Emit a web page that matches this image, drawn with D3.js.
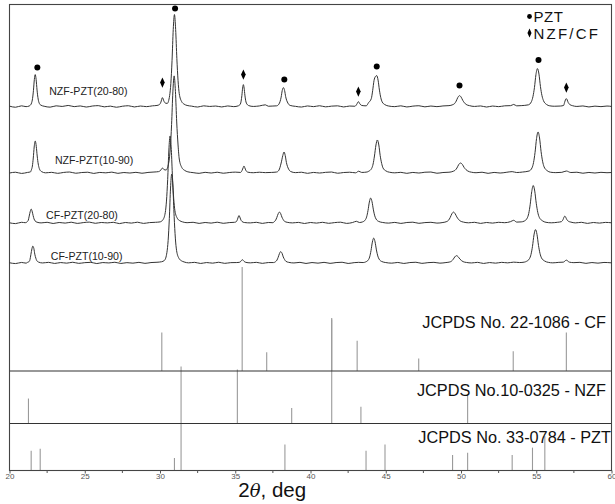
<!DOCTYPE html>
<html>
<head>
<meta charset="utf-8">
<script src="https://cdn.jsdelivr.net/npm/d3@7"></script>
<style>
  body { margin: 0; background: #fff; }
  text { font-family: "Liberation Sans", Arial, sans-serif; }
</style>
</head>
<body>
<div id="chart-area"></div>
<script>
// 2theta ticks
let majorTicks = [20, 25, 30, 35, 40, 45, 50, 55, 60];
let minorTicks = [22.5, 27.5, 32.5, 37.5, 42.5, 47.5, 52.5, 57.5];

let traceNames = ["NZF-PZT(20-80)", "NZF-PZT(10-90)", "CF-PZT(20-80)", "CF-PZT(10-90)"];
// vertical offset of each pattern (counts)
let traceOffsets = [2640, 1977, 1477, 1077];

// measured patterns [2theta, counts above own baseline]
let nzf2080 = [[20.0,5],[20.4,-6],[20.8,8],[21.1,0],[21.3,6],
  [21.35,10],[21.47,38],[21.53,80],[21.59,160],[21.65,270],[21.71,320],[21.77,270],[21.83,166],[21.89,90],[21.95,45],[22.07,16],
  [22.3,4],[22.7,-5],[23.1,8],[23.5,2],[23.9,12],[24.3,0],[24.7,7],[25.1,-4],[25.5,6],[25.9,10],[26.3,-2],[26.7,5],[27.1,-6],[27.5,4],[27.9,9],[28.3,-3],[28.7,6],[29.1,0],[29.5,8],[29.8,12],
  [29.96,20],[30.06,45],[30.16,90],[30.26,55],[30.36,35],[30.48,32],
  [30.64,110],[30.72,230],[30.80,460],[30.88,770],[30.96,920],[31.04,770],[31.12,480],[31.20,260],[31.28,130],[31.44,50],[31.6,25],[31.8,12],
  [32.1,5],[32.5,-4],[32.9,8],[33.3,2],[33.7,6],[34.1,-3],[34.5,7],[34.9,0],[35.2,8],
  [35.34,26],[35.44,110],[35.49,185],[35.54,220],[35.59,185],[35.64,115],[35.74,35],[35.9,10],
  [36.2,2],[36.6,7],[37.0,18],[37.2,4],[37.5,6],
  [37.75,8],[37.9,25],[38.05,95],[38.12,160],[38.2,190],[38.28,160],[38.35,100],[38.5,35],[38.65,12],
  [39.0,3],[39.4,-4],[39.8,7],[40.2,0],[40.6,9],[41.0,-2],[41.4,5],[41.8,8],[42.2,-3],[42.6,6],[42.95,4],
  [43.08,25],[43.18,50],[43.28,28],[43.4,12],
  [43.7,8],[43.86,40],[44.04,80],[44.13,160],[44.22,260],[44.31,300],[44.4,310],[44.49,265],[44.58,165],[44.67,90],[44.76,48],[44.94,20],[45.2,6],
  [45.6,0],[46.0,8],[46.4,-3],[46.8,5],[47.2,9],[47.6,-2],[48.0,6],[48.4,0],[48.8,7],[49.2,10],
  [49.46,20],[49.57,30],[49.68,55],[49.79,92],[49.9,110],[50.01,95],[50.12,62],[50.23,38],[50.34,22],[50.56,10],
  [50.9,2],[51.3,7],[51.7,-4],[52.1,6],[52.5,0],[52.9,8],[53.3,10],[53.5,22],[53.7,8],[54.0,10],
  [54.48,18],[54.68,50],[54.78,100],[54.88,190],[54.98,320],[55.08,380],[55.18,325],[55.28,200],[55.38,110],[55.48,60],[55.68,22],[55.9,8],
  [56.2,4],[56.6,6],[56.82,12],
  [56.88,40],[56.94,68],[57.0,80],[57.06,66],[57.12,42],[57.24,20],[57.4,10],
  [57.7,2],[58.1,7],[58.5,-3],[58.9,5],[59.3,0],[59.7,6],[60.0,2]];

let nzf1090 = [[20.0,0],[20.4,8],[20.8,-4],[21.2,6],[21.4,12],
  [21.45,30],[21.52,70],[21.58,150],[21.64,260],[21.71,320],[21.78,265],[21.84,170],[21.91,90],[21.98,45],[22.12,15],
  [22.4,2],[22.8,7],[23.2,-3],[23.6,6],[24.0,10],[24.4,-2],[24.8,5],[25.2,8],[25.6,-4],[26.0,6],[26.4,2],[26.8,9],[27.2,-3],[27.6,5],[28.0,0],[28.4,7],[28.8,-2],[29.2,6],[29.6,10],[29.9,14],
  [30.06,30],[30.16,50],[30.26,35],[30.4,30],
  [30.6,120],[30.68,240],[30.77,485],[30.855,810],[30.94,970],[31.025,815],[31.11,510],[31.2,280],[31.28,140],[31.45,55],[31.62,28],[31.85,12],
  [32.2,4],[32.6,-3],[33.0,7],[33.4,0],[33.8,8],[34.2,-2],[34.6,5],[35.0,9],[35.35,6],
  [35.45,25],[35.53,55],[35.58,70],[35.63,55],[35.71,25],[35.85,8],
  [36.2,3],[36.6,8],[37.0,4],[37.4,6],[37.75,10],
  [37.9,28],[38.05,100],[38.16,175],[38.24,210],[38.32,175],[38.4,105],[38.55,38],[38.7,14],
  [39.0,4],[39.4,8],[39.8,-3],[40.2,6],[40.6,0],[41.0,7],[41.4,10],[41.8,-2],[42.2,5],[42.6,8],[43.0,2],[43.2,18],[43.4,6],[43.75,10],
  [43.87,18],[44.06,45],[44.16,90],[44.25,170],[44.35,280],[44.44,330],[44.54,280],[44.63,175],[44.73,95],[44.82,50],[45.0,22],[45.25,8],
  [45.6,2],[46.0,7],[46.4,-3],[46.8,6],[47.2,0],[47.6,8],[48.0,10],[48.4,-2],[48.8,5],[49.2,8],
  [49.49,18],[49.61,28],[49.73,50],[49.85,85],[49.97,100],[50.09,86],[50.21,55],[50.33,34],[50.45,20],[50.7,8],
  [51.0,3],[51.4,8],[51.8,-3],[52.2,6],[52.6,0],[53.0,7],[53.4,14],[53.7,5],[54.1,10],
  [54.52,20],[54.72,52],[54.82,105],[54.92,205],[55.02,345],[55.12,410],[55.22,350],[55.32,215],[55.42,118],[55.52,62],[55.72,24],[55.95,8],
  [56.3,4],[56.7,7],[57.0,20],[57.3,5],[57.7,8],[58.1,-2],[58.5,6],[58.9,0],[59.3,7],[59.7,3],[60.0,5]];

let cf2080 = [[20.0,3],[20.4,-5],[20.8,8],[21.05,4],
  [21.18,14],[21.25,30],[21.31,70],[21.38,118],[21.44,140],[21.5,120],[21.57,75],[21.63,42],[21.7,22],[21.83,9],
  [22.1,2],[22.5,8],[22.9,-4],[23.3,6],[23.7,0],[24.1,9],[24.5,-3],[24.9,5],[25.3,10],[25.7,-2],[26.1,6],[26.5,2],[26.9,8],[27.3,-5],[27.7,6],[28.1,0],[28.5,9],[28.9,-3],[29.3,5],[29.7,8],[30.0,12],
  [30.19,32],[30.35,105],[30.43,220],[30.51,435],[30.59,730],[30.67,870],[30.75,735],[30.83,455],[30.91,245],[30.99,125],[31.15,48],[31.3,25],[31.5,12],
  [31.8,4],[32.2,8],[32.6,-3],[33.0,6],[33.4,0],[33.8,9],[34.2,-2],[34.6,5],[34.95,8],
  [35.05,12],[35.15,38],[35.2,62],[35.25,75],[35.3,62],[35.35,40],[35.45,16],[35.6,6],
  [36.0,2],[36.4,8],[36.8,-3],[37.2,6],[37.5,4],
  [37.59,14],[37.68,28],[37.76,55],[37.85,92],[37.93,110],[38.02,94],[38.1,60],[38.19,34],[38.27,18],[38.45,8],
  [38.8,2],[39.2,7],[39.6,-4],[40.0,6],[40.4,0],[40.8,8],[41.2,-2],[41.6,5],[42.0,9],[42.4,-3],[42.8,6],[43.05,18],[43.25,6],
  [43.46,12],[43.64,32],[43.73,62],[43.82,125],[43.91,210],[44.0,250],[44.09,212],[44.18,132],[44.27,72],[44.36,40],[44.54,16],[44.8,6],
  [45.2,0],[45.6,7],[46.0,-3],[46.4,6],[46.8,9],[47.2,-2],[47.6,5],[48.0,8],[48.4,0],[48.8,6],
  [49.06,16],[49.17,28],[49.28,55],[49.39,92],[49.5,110],[49.61,94],[49.72,62],[49.83,38],[49.94,22],[50.16,10],
  [50.5,3],[50.9,8],[51.3,-3],[51.7,6],[52.1,0],[52.5,8],[52.9,4],[53.3,15],[53.5,28],[53.7,10],[54.0,12],
  [54.2,20],[54.4,50],[54.5,96],[54.6,188],[54.7,315],[54.8,375],[54.9,320],[55.0,198],[55.1,108],[55.2,58],[55.4,24],[55.65,8],
  [56.0,3],[56.4,8],[56.66,14],
  [56.78,35],[56.84,58],[56.9,70],[56.96,58],[57.02,38],[57.14,18],[57.3,10],
  [57.6,2],[58.0,8],[58.4,-3],[58.8,6],[59.2,0],[59.6,7],[60.0,3]];

let cf1090 = [[20.0,4],[20.4,-4],[20.8,7],[21.1,0],[21.2,8],
  [21.29,14],[21.36,35],[21.42,85],[21.49,143],[21.55,170],[21.62,145],[21.68,90],[21.75,50],[21.81,26],[21.94,10],
  [22.2,2],[22.6,8],[23.0,-3],[23.4,6],[23.8,0],[24.2,9],[24.6,-2],[25.0,5],[25.4,8],[25.8,-4],[26.2,6],[26.6,2],[27.0,9],[27.4,-3],[27.8,5],[28.2,0],[28.6,8],[29.0,-2],[29.4,6],[29.8,9],[30.1,14],
  [30.3,28],[30.46,108],[30.54,225],[30.62,445],[30.7,750],[30.78,890],[30.86,755],[30.94,465],[31.02,250],[31.1,128],[31.26,48],[31.42,24],[31.6,12],
  [31.9,3],[32.3,8],[32.7,-3],[33.1,6],[33.5,0],[33.9,9],[34.3,-2],[34.7,5],[35.1,6],
  [35.27,8],[35.37,18],[35.47,35],[35.57,20],[35.7,8],
  [36.0,3],[36.4,8],[36.8,-2],[37.2,6],[37.55,6],
  [37.68,15],[37.77,30],[37.85,58],[37.94,97],[38.02,115],[38.11,98],[38.19,62],[38.28,36],[38.36,19],[38.55,8],
  [38.9,2],[39.3,8],[39.7,-3],[40.1,6],[40.5,0],[40.9,8],[41.3,-2],[41.7,6],[42.1,9],[42.5,-3],[42.9,5],[43.2,8],[43.5,6],
  [43.66,12],[43.84,32],[43.93,62],[44.02,125],[44.11,210],[44.2,250],[44.29,212],[44.38,132],[44.47,72],[44.56,40],[44.74,16],[45.0,6],
  [45.4,0],[45.8,7],[46.2,-3],[46.6,6],[47.0,9],[47.4,-2],[47.8,5],[48.2,8],[48.6,0],[49.0,6],
  [49.26,12],[49.37,20],[49.48,38],[49.59,63],[49.7,75],[49.81,64],[49.92,42],[50.03,26],[50.14,15],[50.36,7],
  [50.7,2],[51.1,8],[51.5,-3],[51.9,6],[52.3,0],[52.7,8],[53.1,3],[53.5,10],[53.9,6],[54.2,10],
  [54.35,18],[54.55,45],[54.65,86],[54.75,168],[54.85,282],[54.95,335],[55.05,286],[55.15,177],[55.25,97],[55.35,52],[55.55,22],[55.8,8],
  [56.1,3],[56.5,8],[56.8,10],[57.0,30],[57.2,10],[57.5,5],[57.9,8],[58.3,-2],[58.7,6],[59.1,0],[59.5,7],[60.0,3]];

let traces = [nzf2080, nzf1090, cf2080, cf1090];

// phase markers on the top pattern [2theta, counts]
let pztMarks = [[21.85, 390], [31.0, 980], [38.26, 270], [44.4, 400], [49.9, 210], [55.15, 465]];
let ferriteMarks = [[30.16, 240], [35.54, 320], [43.18, 150], [57.0, 190]];

// reference cards [2theta, relative intensity %]
let cardNames = ["JCPDS No. 22-1086 - CF", "JCPDS No.10-0325 - NZF", "JCPDS No. 33-0784 - PZT"];
let cfCard = [[30.12, 37], [35.46, 100], [37.09, 18], [41.41, 51], [43.1, 29], [47.19, 12], [53.47, 19], [57.0, 37]];
let nzfCard = [[21.26, 24], [35.14, 52], [38.75, 15], [41.41, 100], [43.35, 16], [50.44, 27]];
let pztCard = [[21.44, 19], [22.04, 21], [30.96, 12], [31.4, 100], [38.3, 25], [43.69, 19], [44.95, 25],
  [49.44, 15], [50.44, 17], [53.4, 15], [54.75, 22], [55.57, 33]];
let cards = [cfCard, nzfCard, pztCard];

let legendNames = ["PZT", "NZF/CF"];

let W = 615, H = 504;
let plotLeft = 9.5, plotRight = 611.5, plotTop = 4.5, plotBottom = 470.5;
let panelBase = [371, 423.5, 470.5];

let svg = d3.select("#chart-area").append("svg")
  .attr("width", W)
  .attr("height", H);

let x = d3.scaleLinear().domain([20, 60]).range([plotLeft, plotRight]);
let y = d3.scaleLinear().domain([0, 3665]).range([371, 4]);
let stick = d3.scaleLinear().domain([0, 100]).range([0, 104]);

// reference sticks
cards.forEach((card, i) => {
  svg.append("g").selectAll("line").data(card).enter()
    .append("line")
    .attr("x1", d => x(d[0]))
    .attr("x2", d => x(d[0]))
    .attr("y1", panelBase[i])
    .attr("y2", d => panelBase[i] - stick(d[1]))
    .attr("stroke", "#9a9a9a")
    .attr("stroke-width", 1.1);
});

// panel dividers and frame
svg.append("line").attr("x1", plotLeft).attr("x2", plotRight)
  .attr("y1", panelBase[0]).attr("y2", panelBase[0])
  .attr("stroke", "#333").attr("stroke-width", 1.2);
svg.append("line").attr("x1", plotLeft).attr("x2", plotRight)
  .attr("y1", panelBase[1]).attr("y2", panelBase[1])
  .attr("stroke", "#333").attr("stroke-width", 1.2);
svg.append("rect")
  .attr("x", plotLeft).attr("y", plotTop)
  .attr("width", plotRight - plotLeft).attr("height", plotBottom - plotTop)
  .attr("fill", "none").attr("stroke", "#444").attr("stroke-width", 1.1);

// diffraction patterns
let line = d3.line()
  .x(d => x(d[0]))
  .y(d => d[1])
  .curve(d3.curveMonotoneX);

traces.forEach((tr, i) => {
  svg.append("path")
    .attr("d", line(tr.map(d => [d[0], y(d[1] + traceOffsets[i])])))
    .attr("fill", "none")
    .attr("stroke", "#333")
    .attr("stroke-width", 1);
});

// pattern labels
let labelPos = [[22.64, 120], [23.02, 93], [22.43, 43], [22.74, 33]];
traceNames.forEach((name, i) => {
  svg.append("text")
    .attr("x", x(labelPos[i][0]))
    .attr("y", y(labelPos[i][1] + traceOffsets[i]))
    .attr("font-size", "10.6px")
    .attr("fill", "#222")
    .text(name);
});

// phase markers
svg.append("g").selectAll("circle").data(pztMarks).enter()
  .append("circle")
  .attr("cx", d => x(d[0]))
  .attr("cy", d => y(d[1] + traceOffsets[0]))
  .attr("r", 3)
  .attr("fill", "#000");

let diamond = d3.symbol().type(d3.symbolDiamond).size(26);
svg.append("g").selectAll("path").data(ferriteMarks).enter()
  .append("path")
  .attr("d", diamond)
  .attr("transform", d => "translate(" + x(d[0]) + "," + y(d[1] + traceOffsets[0]) + ") scale(0.85,1.1)")
  .attr("fill", "#000");

// card labels
let cardLabelY = [327.5, 395.5, 443];
let cardLabelX = [606, 606, 611];
cardNames.forEach((name, i) => {
  svg.append("text")
    .attr("x", cardLabelX[i])
    .attr("y", cardLabelY[i])
    .attr("text-anchor", "end")
    .attr("font-size", "16.3px")
    .attr("fill", "#111")
    .text(name);
});

// legend
let legend = svg.append("g").attr("transform", "translate(529.5,0)");
legend.append("circle").attr("cx", 0).attr("cy", 16.5).attr("r", 2.4).attr("fill", "#000");
legend.append("path").attr("d", d3.symbol().type(d3.symbolDiamond).size(20))
  .attr("transform", "translate(0,33) scale(0.85,1.1)").attr("fill", "#000");
legendNames.forEach((name, i) => {
  legend.append("text")
    .attr("x", 4)
    .attr("y", 21.6 + i * 17)
    .attr("font-size", "15px")
    .attr("fill", "#111")
    .attr("letter-spacing", i == 1 ? "2.2px" : "0.6px")
    .text(name);
});

// x axis
let axis = d3.axisBottom(x)
  .tickValues(majorTicks)
  .tickSize(3)
  .tickPadding(0)
  .tickFormat(d3.format("d"));

let gx = svg.append("g")
  .attr("transform", "translate(0," + plotBottom + ")")
  .call(axis);
gx.select(".domain").remove();
gx.selectAll(".tick line").attr("stroke", "#555");
gx.selectAll("text")
  .attr("font-size", "8px")
  .attr("fill", "#555")
  .style("font-family", "'Liberation Sans', Arial, sans-serif");

svg.append("g").selectAll("line").data(minorTicks).enter()
  .append("line")
  .attr("x1", d => x(d)).attr("x2", d => x(d))
  .attr("y1", plotBottom).attr("y2", plotBottom + 2.5)
  .attr("stroke", "#555");

let xLabel = svg.append("text")
  .attr("x", x(35.2))
  .attr("y", 497)
  .attr("font-size", "20.5px")
  .attr("fill", "#111");
xLabel.append("tspan").text("2");
xLabel.append("tspan").attr("font-style", "italic").attr("font-family", "'DejaVu Serif', serif").attr("font-size", "18px").text("θ");
xLabel.append("tspan").text(", deg");
</script>
</body>
</html>
